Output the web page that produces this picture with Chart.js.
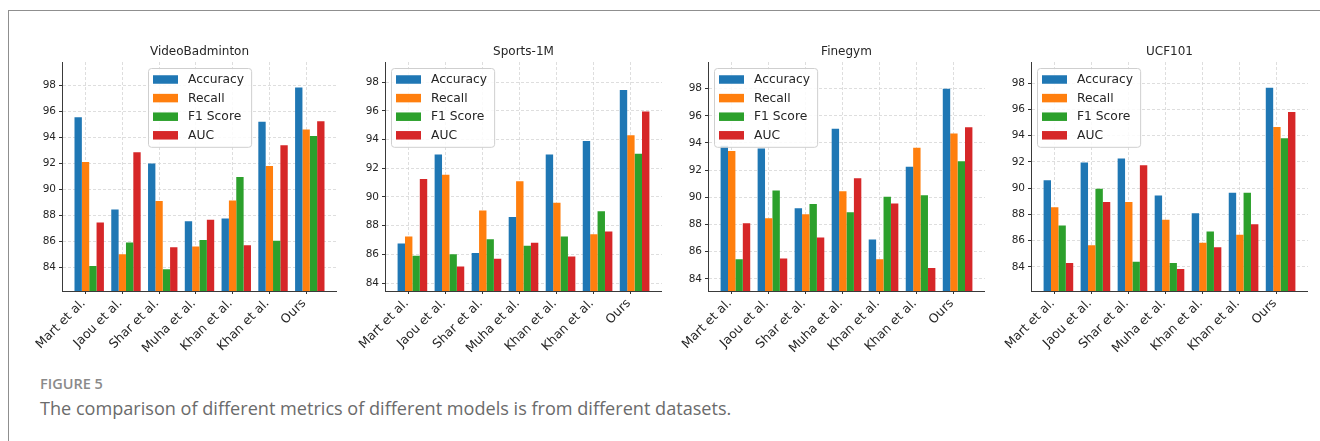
<!DOCTYPE html>
<html>
<head>
<meta charset="utf-8">
<script src="https://cdn.jsdelivr.net/npm/chart.js@4.4.1/dist/chart.umd.min.js"></script>
<style>
  html, body { margin: 0; padding: 0; background: #fff; }
  body { width: 1320px; height: 441px; position: relative; overflow: hidden; }
  .frame { position: absolute; left: 8px; top: 10px; width: 1320px; height: 440px;
           border-left: 1.5px solid #8f8f8f; border-top: 1.5px solid #8f8f8f; }
  .panel { position: absolute; top: 40px; }
  .panel canvas { display: block; }
  .fig-label { position: absolute; left: 40px; top: 377px; font-family: "Open Sans", sans-serif;
               font-size: 14.5px; font-weight: 600; color: #8a8a8a; line-height: 1; }
  .caption { position: absolute; left: 40px; top: 399px; font-family: "Open Sans", sans-serif;
             font-size: 18.1px; color: #6b6b6b; line-height: 1; }
</style>
</head>
<body>
<div class="frame"></div>
<div class="panel" style="left:17px"><canvas id="c0" width="320" height="330"></canvas></div>
<div class="panel" style="left:340px"><canvas id="c1" width="322" height="330"></canvas></div>
<div class="panel" style="left:663px"><canvas id="c2" width="322" height="330"></canvas></div>
<div class="panel" style="left:986px"><canvas id="c3" width="322" height="330"></canvas></div>
<div class="fig-label">FIGURE 5</div>
<div class="caption">The comparison of different metrics of different models is from different datasets.</div>

<script>
// modeles compares (axe x)
const models = ['Mart et al.', 'Jaou et al.', 'Shar et al.', 'Muha et al.', 'Khan et al.', 'Khan et al.', 'Ours'];
const metrics = ['Accuracy', 'Recall', 'F1 Score', 'AUC'];
const metricColors = ['#1f77b4', '#ff7f0e', '#2ca02c', '#d62728'];
const yTicks = [84, 86, 88, 90, 92, 94, 96, 98];

// VideoBadminton
const badmintonAccuracy = [95.55, 88.45, 92.0, 87.55, 87.75, 95.2, 97.85];
const badmintonRecall   = [92.1, 85.0, 89.1, 85.6, 89.15, 91.8, 94.6];
const badmintonF1       = [84.1, 85.9, 83.85, 86.1, 90.95, 86.05, 94.1];
const badmintonAUC      = [87.45, 92.85, 85.55, 87.65, 85.7, 93.4, 95.25];

// Sports-1M
const sportsAccuracy = [86.75, 92.95, 86.1, 88.6, 92.95, 93.9, 97.45];
const sportsRecall   = [87.25, 91.55, 89.05, 91.1, 89.6, 87.4, 94.3];
const sportsF1       = [85.9, 86.0, 87.05, 86.6, 87.25, 89.0, 93.0];
const sportsAUC      = [91.25, 85.15, 85.7, 86.8, 85.85, 87.6, 95.95];

// Finegym
const finegymAccuracy = [93.8, 93.6, 89.2, 95.05, 86.9, 92.25, 98.0];
const finegymRecall   = [93.4, 88.45, 88.75, 90.45, 85.45, 93.65, 94.7];
const finegymF1       = [85.45, 90.5, 89.5, 88.9, 90.05, 90.15, 92.65];
const finegymAUC      = [88.1, 85.5, 87.05, 91.4, 89.55, 84.8, 95.15];

// UCF101
const ucfAccuracy = [90.6, 91.95, 92.25, 89.45, 88.1, 89.65, 97.65];
const ucfRecall   = [88.55, 85.65, 88.95, 87.6, 85.85, 86.45, 94.65];
const ucfF1       = [87.15, 89.95, 84.4, 84.3, 86.7, 89.65, 93.8];
const ucfAUC      = [84.3, 88.95, 91.75, 83.85, 85.5, 87.25, 95.8];

const TEXT = '#262626';
const FONT = '"DejaVu Sans", sans-serif';

// legende dans la zone du graphique (comme matplotlib)
const boxLegend = {
  id: 'boxLegend',
  afterDatasetsDraw(chart, args, opts) {
    const ctx = chart.ctx, area = chart.chartArea;
    const items = chart.data.datasets;
    ctx.save();
    ctx.font = '12.3px ' + FONT;
    const textW = Math.max(...items.map(d => ctx.measureText(d.label).width));
    const pad = 5, patchW = 25, patchH = 8.5, gap = 10, rowH = 18.6, edge = 11.5;
    const w = pad + patchW + gap + textW + 7;
    const h = edge * 2 + rowH * (items.length - 1);
    const x = opts.loc === 'center' ? Math.round((area.left + area.right) / 2 - w / 2) : area.left + 6;
    const y = area.top + 6;
    ctx.fillStyle = 'rgba(255,255,255,0.85)';
    ctx.strokeStyle = '#cfcfcf';
    ctx.lineWidth = 1;
    ctx.beginPath();
    ctx.roundRect(x + 0.5, y + 0.5, w, h, 3);
    ctx.fill();
    ctx.stroke();
    ctx.textBaseline = 'middle';
    items.forEach((d, i) => {
      const cy = y + edge + i * rowH;
      ctx.fillStyle = d.backgroundColor;
      ctx.fillRect(x + pad, cy - patchH / 2, patchW, patchH);
      ctx.fillStyle = TEXT;
      ctx.fillText(d.label, x + pad + patchW + gap, cy + 0.5);
    });
    ctx.restore();
  }
};

function makeChart(id, title, series, legendLoc) {
  const all = series.flat();
  const yMin = Math.min(...all) * 0.98;
  const yMax = Math.max(...all) * 1.02;
  const gridStyle = { color: '#d6d6d6', lineWidth: 0.8, drawTicks: true, tickLength: 3,
                      tickColor: '#333', tickWidth: 1, tickBorderDash: [], offset: false };
  const borderStyle = { display: true, color: '#3a3a3a', width: 1, dash: [3, 2] };

  new Chart(document.getElementById(id), {
    type: 'bar',
    data: {
      datasets: metrics.map((m, k) => ({
        label: m,
        data: models.map((_, i) => ({ x: i, y: series[k][i] })),
        backgroundColor: metricColors[k],
        borderWidth: 0,
        categoryPercentage: 0.8,
        barPercentage: 1.0
      }))
    },
    options: {
      responsive: false,
      animation: false,
      layout: { padding: 0 },
      plugins: {
        legend: { display: false },
        tooltip: { enabled: false },
        title: { display: true, text: title, color: TEXT, fullSize: false,
                 font: { family: FONT, size: 12, weight: 'normal' }, padding: { top: 5, bottom: 2.6 } },
        boxLegend: { loc: legendLoc }
      },
      scales: {
        x: {
          type: 'linear', min: -0.74, max: 6.74, offset: false,
          afterBuildTicks: s => { s.ticks = models.map((_, i) => ({ value: i - 0.1 })); },
          afterFit: s => { s.height = 79; },
          ticks: { autoSkip: false, minRotation: 45, maxRotation: 45, padding: 2, labelOffset: -2,
                   color: TEXT, font: { family: FONT, size: 12.5 }, callback: (v, i) => models[i] },
          grid: gridStyle,
          border: borderStyle
        },
        y: {
          min: yMin, max: yMax, beginAtZero: false,
          afterBuildTicks: s => { s.ticks = yTicks.map(v => ({ value: v })); },
          afterFit: s => { s.width = 45; },
          ticks: { padding: 3, color: TEXT, font: { family: FONT, size: 10.5 } },
          grid: gridStyle,
          border: borderStyle
        }
      }
    },
    plugins: [boxLegend]
  });
}

makeChart('c0', 'VideoBadminton', [badmintonAccuracy, badmintonRecall, badmintonF1, badmintonAUC], 'center');
makeChart('c1', 'Sports-1M', [sportsAccuracy, sportsRecall, sportsF1, sportsAUC], 'left');
makeChart('c2', 'Finegym', [finegymAccuracy, finegymRecall, finegymF1, finegymAUC], 'left');
makeChart('c3', 'UCF101', [ucfAccuracy, ucfRecall, ucfF1, ucfAUC], 'left');
</script>
</body>
</html>
